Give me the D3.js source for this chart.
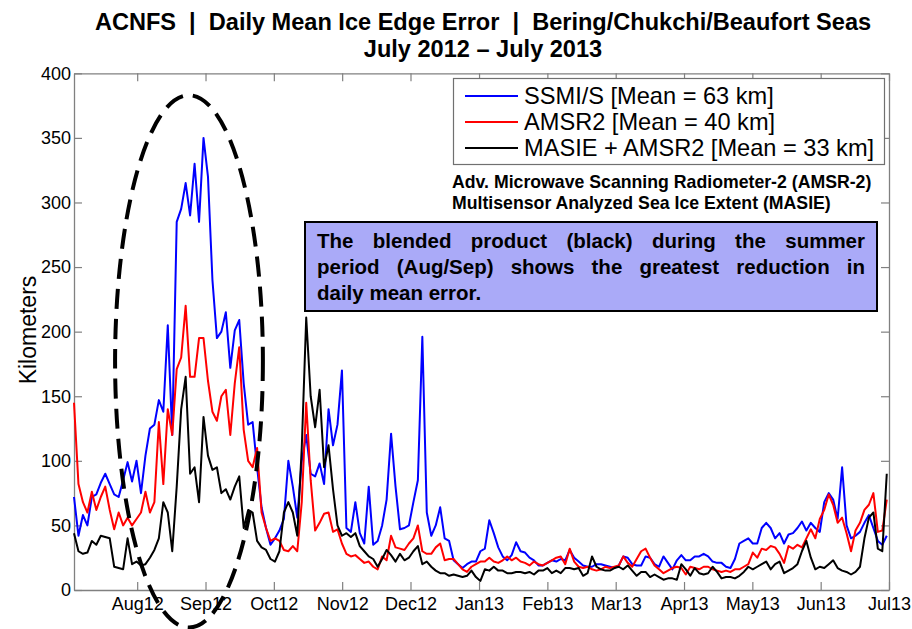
<!DOCTYPE html>
<html><head><meta charset="utf-8">
<script src="https://cdn.jsdelivr.net/npm/d3@7"></script>
<style>body{margin:0;background:#fff} svg{display:block}</style>
</head><body><svg id="c" width="912" height="629"></svg>
<script>
// ---------------- data ----------------
const titleLines = ["ACNFS  |  Daily Mean Ice Edge Error  |  Bering/Chukchi/Beaufort Seas", "July 2012 \u2013 July 2013"];
const yLabel = "Kilometers";
const monthLabels = ["Aug12","Sep12","Oct12","Nov12","Dec12","Jan13","Feb13","Mar13","Apr13","May13","Jun13","Jul13"];
const monthTickDays = [28.3, 58.9, 89.5, 120.1, 150.7, 181.4, 212.0, 242.6, 273.2, 303.8, 334.4, 365];
const yTicks = [0, 50, 100, 150, 200, 250, 300, 350, 400];
const dayStep = 2; // one value every 2 days since start of record
const legendLabels = ["SSMI/S [Mean = 63 km]", "AMSR2 [Mean = 40 km]", "MASIE + AMSR2 [Mean = 33 km]"];
const sensorNotes = ["Adv. Microwave Scanning Radiometer-2 (AMSR-2)", "Multisensor Analyzed Sea Ice Extent (MASIE)"];
const noteLines = ["The blended product (black) during the summer", "period (Aug/Sep) shows the greatest reduction in", "daily mean error."];

const ssmis = [
 72,42,58,50,72,74,83,90,82,74,
 72,85,99,84,100,75,104,125,128,147,
 138,205,120,285,295,315,290,330,285,350,
 320,240,195,200,215,172,201,209,160,128,
 130,95,64,48,35,40,46,55,100,80,
 56,100,120,90,88,98,82,140,112,128,
 170,48,45,68,44,36,80,35,38,50,
 70,121,80,47,48,50,68,85,196,60,
 42,50,64,40,38,23,20,17,20,22,
 22,30,32,54,44,33,26,23,27,37,
 30,29,25,23,19,19,21,23,22,24,
 23,31,25,22,19,18,18,20,20,19,
 18,17,19,26,25,20,19,19,26,25,
 20,18,26,21,16,23,27,23,23,26,
 26,28,26,22,21,21,18,17,24,36,
 38,40,36,36,48,52,48,40,44,36,
 43,44,48,53,46,52,48,45,68,75,
 70,55,95,50,40,42,45,52,58,48,
 38,35,42];
const amsr2 = [
 145,82,68,60,76,62,72,80,62,47,
 60,50,56,50,55,60,76,60,68,130,
 82,140,120,171,180,220,165,165,195,195,
 162,138,131,150,155,120,160,188,124,100,
 95,110,60,48,38,40,38,31,30,34,
 30,68,145,85,46,52,59,60,45,47,
 36,28,26,27,24,21,22,18,16,26,
 23,42,33,32,31,36,40,50,30,28,
 28,33,36,23,24,24,20,16,14,18,
 20,22,22,25,22,21,23,26,23,25,
 22,21,19,22,20,19,21,23,25,26,
 20,32,22,18,17,18,16,15,16,18,
 17,18,19,26,21,18,24,30,32,25,
 19,16,13,15,17,18,17,12,18,17,
 16,18,18,16,15,14,15,14,16,16,
 18,20,29,25,32,31,34,33,28,21,
 34,32,35,33,40,47,40,55,62,74,
 66,52,56,44,30,46,52,62,66,75,
 45,46,70];
const masie = [
 44,30,28,29,38,35,42,41,40,18,
 17,16,40,20,22,19,20,25,31,40,
 68,60,30,80,140,165,90,95,68,134,
 104,93,95,75,78,70,80,88,48,62,
 60,38,33,31,24,22,30,60,68,60,
 42,110,211,150,126,155,95,112,78,50,
 42,44,41,44,34,30,26,24,18,24,
 31,27,22,28,23,25,30,34,20,22,
 18,15,13,13,11,12,11,10,11,15,
 10,7,16,15,18,15,15,13,13,14,
 14,13,14,12,15,15,17,13,15,13,
 17,17,16,17,11,13,26,18,16,15,
 15,17,18,16,19,15,11,14,14,10,
 12,10,8,9,9,8,20,16,11,17,
 13,12,13,18,14,9,10,10,9,11,
 14,18,16,18,20,22,16,20,22,13,
 15,17,20,30,38,25,16,18,17,20,
 23,17,15,14,12,14,18,40,56,60,
 32,30,90];
// highlighted summer period (dashed ellipse), in data units
const highlight = {centerDay: 51.5, centerKm: 177, halfDays: 33.1, halfKm: 206};

// ---------------- layout ----------------
const seriesColors = ["#0000ff", "#ff0000", "#000000"];
const W = 912, H = 629;
const plot = {left: 74, right: 889, top: 73.3, bottom: 590};
const axisColor = "#808080";
const baseFont = "'Liberation Sans', Arial, Helvetica, sans-serif";

const svg = d3.select("#c");
svg.append("rect").attr("width", W).attr("height", H).attr("fill", "#fff");

const x = d3.scaleLinear().domain([0, 365]).range([plot.left, plot.right]);
const y = d3.scaleLinear().domain([0, 400]).range([plot.bottom, plot.top]);

// title (condensed look: horizontally squeezed bold sans)
const titleWidth = 777;
const titleNodes = titleLines.map((t, i) => svg.append("text")
  .attr("x", 0).attr("y", 0)
  .attr("text-anchor", "middle")
  .attr("font-family", baseFont)
  .attr("font-weight", "bold").attr("font-size", 24)
  .attr("fill", "#000")
  .style("white-space", "pre")
  .text(t));
const kx = titleWidth / titleNodes[0].node().getComputedTextLength();
titleNodes.forEach((n, i) => n.attr("transform", `translate(483,${30 + i * 27}) scale(${kx},1)`));

// y label
svg.append("text")
  .attr("transform", `translate(36,330) rotate(-90)`)
  .attr("text-anchor", "middle")
  .attr("font-family", baseFont).attr("font-size", 23)
  .text(yLabel);

// axes (box with inward ticks)
function styleAxis(g) {
  g.selectAll("path.domain").attr("stroke", axisColor).attr("stroke-width", 1.3);
  g.selectAll(".tick line").attr("stroke", axisColor).attr("stroke-width", 1.2);
  g.selectAll(".tick text").attr("fill", "#000").attr("font-family", baseFont).attr("font-size", 18);
}
const gB = svg.append("g").attr("transform", `translate(0,${plot.bottom})`)
  .call(d3.axisBottom(x).tickValues(monthTickDays).tickFormat((d, i) => monthLabels[i])
    .tickSizeInner(-8).tickSizeOuter(0).tickPadding(7));
styleAxis(gB);
const gT = svg.append("g").attr("transform", `translate(0,${plot.top})`)
  .call(d3.axisTop(x).tickValues(monthTickDays).tickFormat("")
    .tickSizeInner(-8).tickSizeOuter(0));
styleAxis(gT);
const gL = svg.append("g").attr("transform", `translate(${plot.left},0)`)
  .call(d3.axisLeft(y).tickValues(yTicks).tickSizeInner(-8).tickSizeOuter(0).tickPadding(3));
styleAxis(gL);
const gR = svg.append("g").attr("transform", `translate(${plot.right},0)`)
  .call(d3.axisRight(y).tickValues(yTicks).tickFormat("").tickSizeInner(-8).tickSizeOuter(0));
styleAxis(gR);

// series lines
const series = [ssmis, amsr2, masie];
const line = d3.line().x((v, i) => x(i * dayStep)).y(v => y(v));
svg.append("g").selectAll("path.series").data(series).join("path")
  .attr("class", "series")
  .attr("d", d => line(d))
  .attr("fill", "none")
  .attr("stroke", (d, i) => seriesColors[i])
  .attr("stroke-width", 2)
  .attr("stroke-linejoin", "round");

// legend
const lg = svg.append("g");
lg.append("rect").attr("x", 453.5).attr("y", 78.5).attr("width", 431).attr("height", 86)
  .attr("fill", "#fff").attr("stroke", "#707070").attr("stroke-width", 1.2);
legendLabels.forEach((lab, i) => {
  const cy = 96 + i * 26;
  lg.append("line").attr("x1", 465).attr("x2", 518).attr("y1", cy).attr("y2", cy)
    .attr("stroke", seriesColors[i]).attr("stroke-width", 2);
  lg.append("text").attr("x", 524).attr("y", cy + 8.3)
    .attr("font-family", baseFont).attr("font-size", 23.6).text(lab);
});

// sensor notes
svg.selectAll("text.note").data(sensorNotes).join("text")
  .attr("class", "note")
  .attr("x", 452).attr("y", (d, i) => 188 + i * 20.5)
  .attr("font-family", baseFont).attr("font-weight", "bold").attr("font-size", 17.7)
  .text(d => d);

// annotation box with justified text
const box = {x: 305, y: 222, w: 572, h: 89, padL: 12, padR: 12};
svg.append("rect").attr("x", box.x).attr("y", box.y).attr("width", box.w).attr("height", box.h)
  .attr("fill", "#aaaaf8").attr("stroke", "#000").attr("stroke-width", 2);
const tg = svg.append("g");
noteLines.forEach((ln, li) => {
  const words = ln.split(" ");
  const by = 248 + li * 26;
  const nodes = words.map(w => tg.append("text").attr("y", by)
    .attr("font-family", baseFont).attr("font-weight", "bold").attr("font-size", 20.5).text(w));
  const widths = nodes.map(n => n.node().getComputedTextLength());
  const avail = box.w - box.padL - box.padR;
  const total = widths.reduce((a, b) => a + b, 0);
  const justify = li < noteLines.length - 1;
  const spaceW = 20.5 * 0.278;
  const gap = justify ? (avail - total) / (words.length - 1) : spaceW;
  let cx = box.x + box.padL;
  nodes.forEach((n, k) => { n.attr("x", cx); cx += widths[k] + gap; });
});

// dashed ellipse highlighting summer
svg.append("ellipse")
  .attr("cx", x(highlight.centerDay)).attr("cy", y(highlight.centerKm))
  .attr("rx", x(highlight.centerDay + highlight.halfDays) - x(highlight.centerDay))
  .attr("ry", y(highlight.centerKm) - y(highlight.centerKm + highlight.halfKm))
  .attr("fill", "none").attr("stroke", "#000").attr("stroke-width", 4)
  .attr("stroke-dasharray", "20,10");
</script>
</body></html>
